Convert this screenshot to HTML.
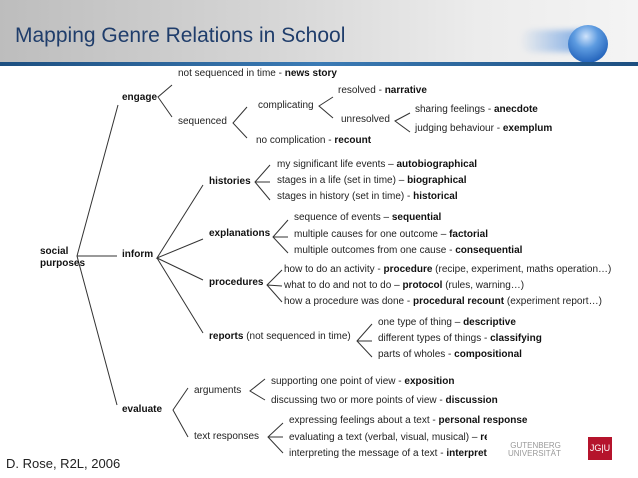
<!DOCTYPE html>
<html><head><meta charset="utf-8"><style>
body{margin:0;width:638px;height:478px;overflow:hidden;background:#fff;position:relative;font-family:"Liberation Sans",Arial,sans-serif;}
.hdr{position:absolute;left:0;top:0;width:638px;height:63px;background:linear-gradient(90deg,#bdbdbd 0%,#d4d4d4 40%,#ececec 75%,#f4f4f4 100%);}
.bar{position:absolute;left:0;top:62px;width:638px;height:4px;background:linear-gradient(90deg,#1d4f80,#3b7bb5 50%,#1d4f80);}
.title{position:absolute;left:15px;top:24px;font-size:21px;color:#1f3d6b;white-space:nowrap;}
.t{position:absolute;font-size:10px;color:#222;white-space:nowrap;line-height:12px;}
b{font-weight:bold;color:#111;}
svg{position:absolute;left:0;top:0;}
</style></head><body>
<div class="hdr"></div>
<div style="position:absolute;left:520px;top:30px;width:70px;height:22px;border-radius:11px;background:linear-gradient(90deg,rgba(80,140,220,0),rgba(60,130,220,0.7));filter:blur(3px)"></div>
<div style="position:absolute;left:568px;top:25px;width:40px;height:38px;border-radius:50%;background:radial-gradient(circle at 45% 30%,#cfe3fb 0%,#5d9be0 35%,#1f5fb8 80%,#1a4f9a 100%)"></div>
<div class="bar"></div>
<div class="title">Mapping Genre Relations in School</div>
<svg width="638" height="478" stroke="#333" stroke-width="1" fill="none">
<path d="M118,105 L77,256 L117,405 M77,256 L117,256"/>
<path d="M172,85 L158,97 L172,117"/>
<path d="M247,107 L233,123 L247,138"/>
<path d="M333,97 L319,106 L333,118"/>
<path d="M410,113 L395,121 L410,132"/>
<path d="M203,185 L157,258 L203,239 M157,258 L203,280 M157,258 L203,333"/>
<path d="M270,165 L255,182 L270,200 M255,182 L270,182"/>
<path d="M288,220 L273,237 L288,253 M273,237 L288,237"/>
<path d="M282,270 L267,285 L282,302 M267,285 L282,286"/>
<path d="M372,324 L357,341 L372,357 M357,341 L372,341"/>
<path d="M188,388 L173,410 L188,437"/>
<path d="M265,379 L250,391 L265,400"/>
<path d="M283,423 L268,437 L283,453 M268,437 L283,437"/>
</svg>
<div class="t" style="left:178px;top:68px">not sequenced in time - <b>news story</b></div>
<div class="t" style="left:122px;top:92px"><b>engage</b></div>
<div class="t" style="left:338px;top:85px">resolved - <b>narrative</b></div>
<div class="t" style="left:258px;top:100px">complicating</div>
<div class="t" style="left:415px;top:104px">sharing feelings - <b>anecdote</b></div>
<div class="t" style="left:178px;top:116px">sequenced</div>
<div class="t" style="left:341px;top:114px">unresolved</div>
<div class="t" style="left:415px;top:123px">judging behaviour - <b>exemplum</b></div>
<div class="t" style="left:256px;top:135px">no complication - <b>recount</b></div>
<div class="t" style="left:277px;top:159px">my significant life events – <b>autobiographical</b></div>
<div class="t" style="left:209px;top:176px"><b>histories</b></div>
<div class="t" style="left:277px;top:175px">stages in a life (set in time) – <b>biographical</b></div>
<div class="t" style="left:277px;top:191px">stages in history (set in time) - <b>historical</b></div>
<div class="t" style="left:294px;top:212px">sequence of events – <b>sequential</b></div>
<div class="t" style="left:209px;top:228px"><b>explanations</b></div>
<div class="t" style="left:294px;top:229px">multiple causes for one outcome – <b>factorial</b></div>
<div class="t" style="left:40px;top:246px"><b>social<br>purposes</b></div>
<div class="t" style="left:122px;top:249px"><b>inform</b></div>
<div class="t" style="left:294px;top:245px">multiple outcomes from one cause - <b>consequential</b></div>
<div class="t" style="left:284px;top:264px">how to do an activity - <b>procedure</b> (recipe, experiment, maths operation…)</div>
<div class="t" style="left:209px;top:277px"><b>procedures</b></div>
<div class="t" style="left:284px;top:280px">what to do and not to do – <b>protocol</b> (rules, warning…)</div>
<div class="t" style="left:284px;top:296px">how a procedure was done - <b>procedural recount</b> (experiment report…)</div>
<div class="t" style="left:378px;top:317px">one type of thing – <b>descriptive</b></div>
<div class="t" style="left:209px;top:331px"><b>reports</b> (not sequenced in time)</div>
<div class="t" style="left:378px;top:333px">different types of things - <b>classifying</b></div>
<div class="t" style="left:378px;top:349px">parts of wholes - <b>compositional</b></div>
<div class="t" style="left:271px;top:376px">supporting one point of view - <b>exposition</b></div>
<div class="t" style="left:194px;top:385px">arguments</div>
<div class="t" style="left:271px;top:395px">discussing two or more points of view - <b>discussion</b></div>
<div class="t" style="left:122px;top:404px"><b>evaluate</b></div>
<div class="t" style="left:289px;top:415px">expressing feelings about a text - <b>personal response</b></div>
<div class="t" style="left:194px;top:431px">text responses</div>
<div class="t" style="left:289px;top:432px;width:198px;overflow:hidden">evaluating a text (verbal, visual, musical) – <b>review</b></div>
<div class="t" style="left:289px;top:448px;width:198px;overflow:hidden">interpreting the message of a text - <b>interpretation</b></div>
<div class="t" style="left:6px;top:456px;font-size:13px;line-height:15px">D. Rose, R2L, 2006</div>
<div class="t" style="left:508px;top:442px;font-size:8px;line-height:8px;color:#999;text-align:right">GUTENBERG<br>UNIVERSITÄT</div>
<div style="position:absolute;left:588px;top:437px;width:24px;height:23px;background:#b5142c;color:#fff;font-size:9px;line-height:23px;text-align:center;font-family:'Liberation Sans',sans-serif">JG|U</div>
</body></html>
